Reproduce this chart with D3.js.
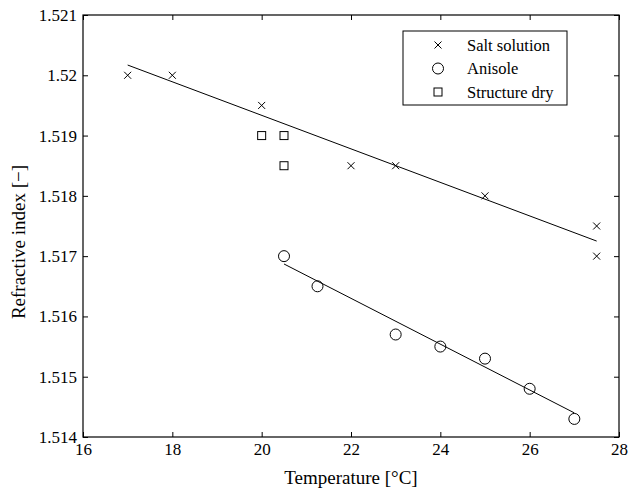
<!DOCTYPE html>
<meta charset="utf-8">
<style>
body { margin: 0; background: #fff; }
text { font-family: "Liberation Serif", "Times New Roman", serif; fill: #000; }
.mk { fill: none; stroke: #000; stroke-width: 1; }
.fit { fill: none; stroke: #000; stroke-width: 1; }
</style>
<body>
<script src="https://d3js.org/d3.v7.min.js"></script>
<script>

// data
var saltX = [17, 18, 20, 22, 23, 25, 27.5, 27.5];
var saltY = [1.520, 1.520, 1.5195, 1.5185, 1.5185, 1.518, 1.5175, 1.517];
var aniX = [20.5, 21.25, 23, 24, 25, 26, 27];
var aniY = [1.517, 1.5165, 1.5157, 1.5155, 1.5153, 1.5148, 1.5143];
var dryX = [20, 20.5, 20.5];
var dryY = [1.519, 1.519, 1.5185];
// fitted lines (end points)
var saltFitX = [17, 27.5];
var saltFitY = [1.52017, 1.51725];
var aniFitX = [20.5, 27];
var aniFitY = [1.51687, 1.51440];

var xTicks = [16, 18, 20, 22, 24, 26, 28];
var yTicks = [1.514, 1.515, 1.516, 1.517, 1.518, 1.519, 1.52, 1.521];
var legendNames = ["Salt solution", "Anisole", "Structure dry"];

var margin = {top: 15, right: 9, bottom: 55, left: 83}
  , width = 628 - margin.left - margin.right
  , height = 492 - margin.top - margin.bottom;

var svg = d3.select("body").append("svg")
    .attr("width", 628)
    .attr("height", 492)
  .append("g")
    .attr("transform", "translate(" + margin.left + "," + margin.top + ")");

var x = d3.scaleLinear().domain([16, 28]).range([0, width]);
var y = d3.scaleLinear().domain([1.514, 1.521]).range([height, 0]);

// axes, matlab style: ticks inside, on all four sides
function styleAxis(g) {
  g.select(".domain").remove();
  g.selectAll("line").attr("stroke", "#000");
  g.selectAll("text").style("font-size", "17px");
}

svg.append("g")
    .attr("transform", "translate(0," + height + ")")
    .call(d3.axisBottom(x).tickValues(xTicks).tickSize(-5).tickPadding(6).tickFormat(d3.format("d")))
    .call(styleAxis);
svg.append("g")
    .call(d3.axisTop(x).tickValues(xTicks).tickSize(-5).tickFormat(""))
    .call(styleAxis);
svg.append("g")
    .call(d3.axisLeft(y).tickValues(yTicks).tickSize(-5).tickPadding(6).tickFormat(function(d) { return String(+d.toFixed(4)); }))
    .call(styleAxis);
svg.append("g")
    .attr("transform", "translate(" + width + ",0)")
    .call(d3.axisRight(y).tickValues(yTicks).tickSize(-5).tickFormat(""))
    .call(styleAxis);

svg.append("rect")
    .attr("width", width)
    .attr("height", height)
    .attr("fill", "none")
    .attr("stroke", "#000")
    .attr("stroke-width", 1.2);

// fit lines
var line = d3.line().x(function(d) { return x(d[0]); }).y(function(d) { return y(d[1]); });
svg.append("path").attr("class", "fit").attr("d", line(d3.zip(saltFitX, saltFitY)));
svg.append("path").attr("class", "fit").attr("d", line(d3.zip(aniFitX, aniFitY)));

// markers
function cross(g, cx, cy) {
  var s = 3.5;
  g.append("path").attr("class", "mk")
    .attr("d", "M" + (cx - s) + "," + (cy - s) + "L" + (cx + s) + "," + (cy + s) +
               "M" + (cx - s) + "," + (cy + s) + "L" + (cx + s) + "," + (cy - s));
}
function circ(g, cx, cy) {
  g.append("circle").attr("class", "mk").attr("cx", cx).attr("cy", cy).attr("r", 5.5);
}
function square(g, cx, cy) {
  g.append("rect").attr("class", "mk")
    .attr("x", cx - 4).attr("y", cy - 4).attr("width", 8).attr("height", 8);
}

saltX.forEach(function(d, i) { cross(svg, x(d), y(saltY[i])); });
aniX.forEach(function(d, i) { circ(svg, x(d), y(aniY[i])); });
dryX.forEach(function(d, i) { square(svg, x(d), y(dryY[i])); });

// legend
var lg = svg.append("g").attr("transform", "translate(" + (403 - margin.left) + "," + (31 - margin.top) + ")");
lg.append("rect").attr("width", 164).attr("height", 74)
    .attr("fill", "#fff").attr("stroke", "#000").attr("stroke-width", 1);
var markFns = [cross, circ, square];
legendNames.forEach(function(name, i) {
  var ry = 14 + i * 23.5;
  markFns[i](lg, 35, ry);
  lg.append("text").attr("x", 64).attr("y", ry + 5.5).style("font-size", "16.5px").text(name);
});

// axis titles
svg.append("text")
    .attr("x", width / 2)
    .attr("y", height + 47)
    .attr("text-anchor", "middle")
    .style("font-size", "19px")
    .text("Temperature [°C]");
svg.append("text")
    .attr("transform", "translate(" + (-58) + "," + (242 - margin.top) + ") rotate(-90)")
    .attr("text-anchor", "middle")
    .style("font-size", "19px")
    .text("Refractive index [\u2212]");

</script>
</body>
